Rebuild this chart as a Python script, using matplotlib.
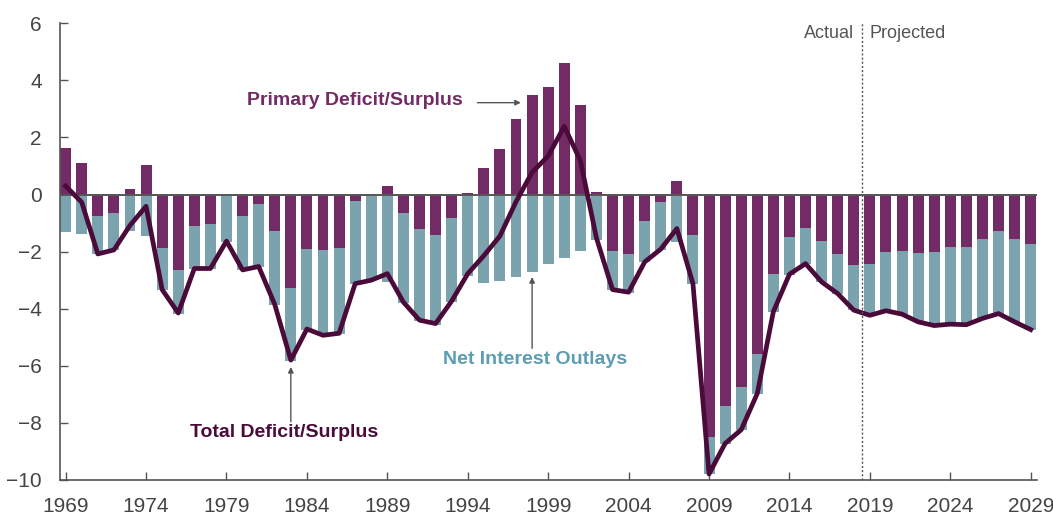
import matplotlib
matplotlib.use("Agg")
import numpy as np
from matplotlib import pyplot as plt

# Deficits as percent of GDP, 1969-2029 (2019 onward projected)
years = list(range(1969, 2030))

primary = [1.63, 1.10, -0.76, -0.65, 0.19, 1.03, -1.88, -2.64, -1.11, -1.04,
           -0.02, -0.76, -0.33, -1.28, -3.27, -1.91, -1.95, -1.88, -0.23, -0.03,
           0.30, -0.65, -1.21, -1.42, -0.83, 0.07, 0.93, 1.60, 2.64, 3.48,
           3.77, 4.61, 3.13, 0.08, -1.97, -2.09, -0.93, -0.27, 0.47, -1.42,
           -8.49, -7.41, -6.74, -5.57, -2.79, -1.49, -1.18, -1.63, -2.09, -2.48,
           -2.44, -2.02, -1.98, -2.05, -2.02, -1.84, -1.84, -1.56, -1.28, -1.56,
           -1.74]

interest = [1.31, 1.38, 1.33, 1.30, 1.27, 1.45, 1.47, 1.53, 1.49, 1.56,
            1.64, 1.89, 2.20, 2.60, 2.56, 2.84, 2.92, 3.01, 2.91, 2.92,
            3.06, 3.14, 3.21, 3.16, 2.93, 2.85, 3.09, 3.04, 2.88, 2.71,
            2.44, 2.23, 1.97, 1.60, 1.36, 1.35, 1.43, 1.68, 1.66, 1.70,
            1.31, 1.33, 1.51, 1.40, 1.32, 1.34, 1.24, 1.43, 1.38, 1.57,
            1.79, 2.03, 2.21, 2.41, 2.57, 2.70, 2.74, 2.78, 2.89, 2.90,
            2.99]

total = [0.30, -0.27, -2.08, -1.94, -1.08, -0.41, -3.33, -4.15, -2.59, -2.59,
         -1.63, -2.64, -2.52, -3.85, -5.80, -4.71, -4.93, -4.86, -3.12, -3.00,
         -2.77, -3.77, -4.40, -4.52, -3.73, -2.77, -2.14, -1.45, -0.25, 0.78,
         1.35, 2.39, 1.19, -1.52, -3.33, -3.42, -2.36, -1.91, -1.19, -3.12,
         -9.79, -8.72, -8.24, -6.97, -4.10, -2.79, -2.42, -3.06, -3.47, -4.05,
         -4.23, -4.07, -4.19, -4.46, -4.59, -4.54, -4.56, -4.34, -4.17, -4.46,
         -4.73]

purple = "#732b65"
teal = "#7ba3ae"
dark = "#4a0a3a"
grey = "#555555"

plt.rcParams['font.family'] = ['Liberation Sans Narrow', 'Liberation Sans', 'DejaVu Sans']

fig = plt.figure(figsize=(10.53, 5.16), dpi=100)
ax = fig.add_axes([0.057, 0.0698, 0.9275, 0.885])

yrs = np.array(years)
prim = np.array(primary)
intr = np.array(interest)
# net interest hangs below zero, or below the primary deficit when there is one
teal_base = np.minimum(prim, 0)
ax.bar(yrs, prim, width=0.68, color=purple, zorder=2)
ax.bar(yrs, -intr, bottom=teal_base, width=0.68, color=teal, zorder=2)
ax.axhline(0, color=grey, lw=1.4, zorder=3)
ax.plot(yrs, total, color=dark, lw=3.4, solid_joinstyle='round', zorder=4)

# actual / projected split
ax.axvline(2018.5, color=grey, lw=1.0, ls=(0, (1.5, 1.5)), zorder=5)
ax.text(2018.0, 5.65, "Actual", ha='right', va='center', fontsize=13, color=grey)
ax.text(2019.0, 5.65, "Projected", ha='left', va='center', fontsize=13, color=grey)

# series labels
ax.text(1980.3, 3.3, "Primary Deficit/Surplus", ha='left', va='center',
        fontsize=14, fontweight='bold', color=purple)
ax.annotate("", xy=(1997.3, 3.22), xytext=(1994.6, 3.22),
            arrowprops=dict(arrowstyle='-|>', color=grey, lw=1.0,
                            mutation_scale=8, shrinkA=0, shrinkB=0))
ax.text(1998.2, -5.78, "Net Interest Outlays", ha='center', va='center',
        fontsize=14, fontweight='bold', color="#5a9db5")
ax.annotate("", xy=(1998.0, -2.89), xytext=(1998.0, -5.39),
            arrowprops=dict(arrowstyle='-|>', color=grey, lw=1.0,
                            mutation_scale=8, shrinkA=0, shrinkB=0))
ax.text(1982.6, -8.35, "Total Deficit/Surplus", ha='center', va='center',
        fontsize=14, fontweight='bold', color=dark)
ax.annotate("", xy=(1983.0, -6.04), xytext=(1983.0, -7.96),
            arrowprops=dict(arrowstyle='-|>', color=grey, lw=1.0,
                            mutation_scale=8, shrinkA=0, shrinkB=0))

ax.set_xlim(1968.65, 2029.37)
ax.set_ylim(-10, 6)
ax.set_yticks(range(-10, 7, 2))
ax.set_yticklabels([str(v).replace('-', '\u2212') for v in range(-10, 7, 2)])
ax.set_xticks(range(1969, 2030, 5))

for s in ['top', 'right']:
    ax.spines[s].set_visible(False)
for s in ['left', 'bottom']:
    ax.spines[s].set_color(grey)
    ax.spines[s].set_linewidth(1.2)
ax.tick_params(axis='both', direction='in', length=6, width=1.0, color=grey,
               labelcolor="#444444", labelsize=15)
ax.tick_params(axis='y', pad=13)
ax.tick_params(axis='x', pad=12)

fig.savefig("out.png", dpi=100)
